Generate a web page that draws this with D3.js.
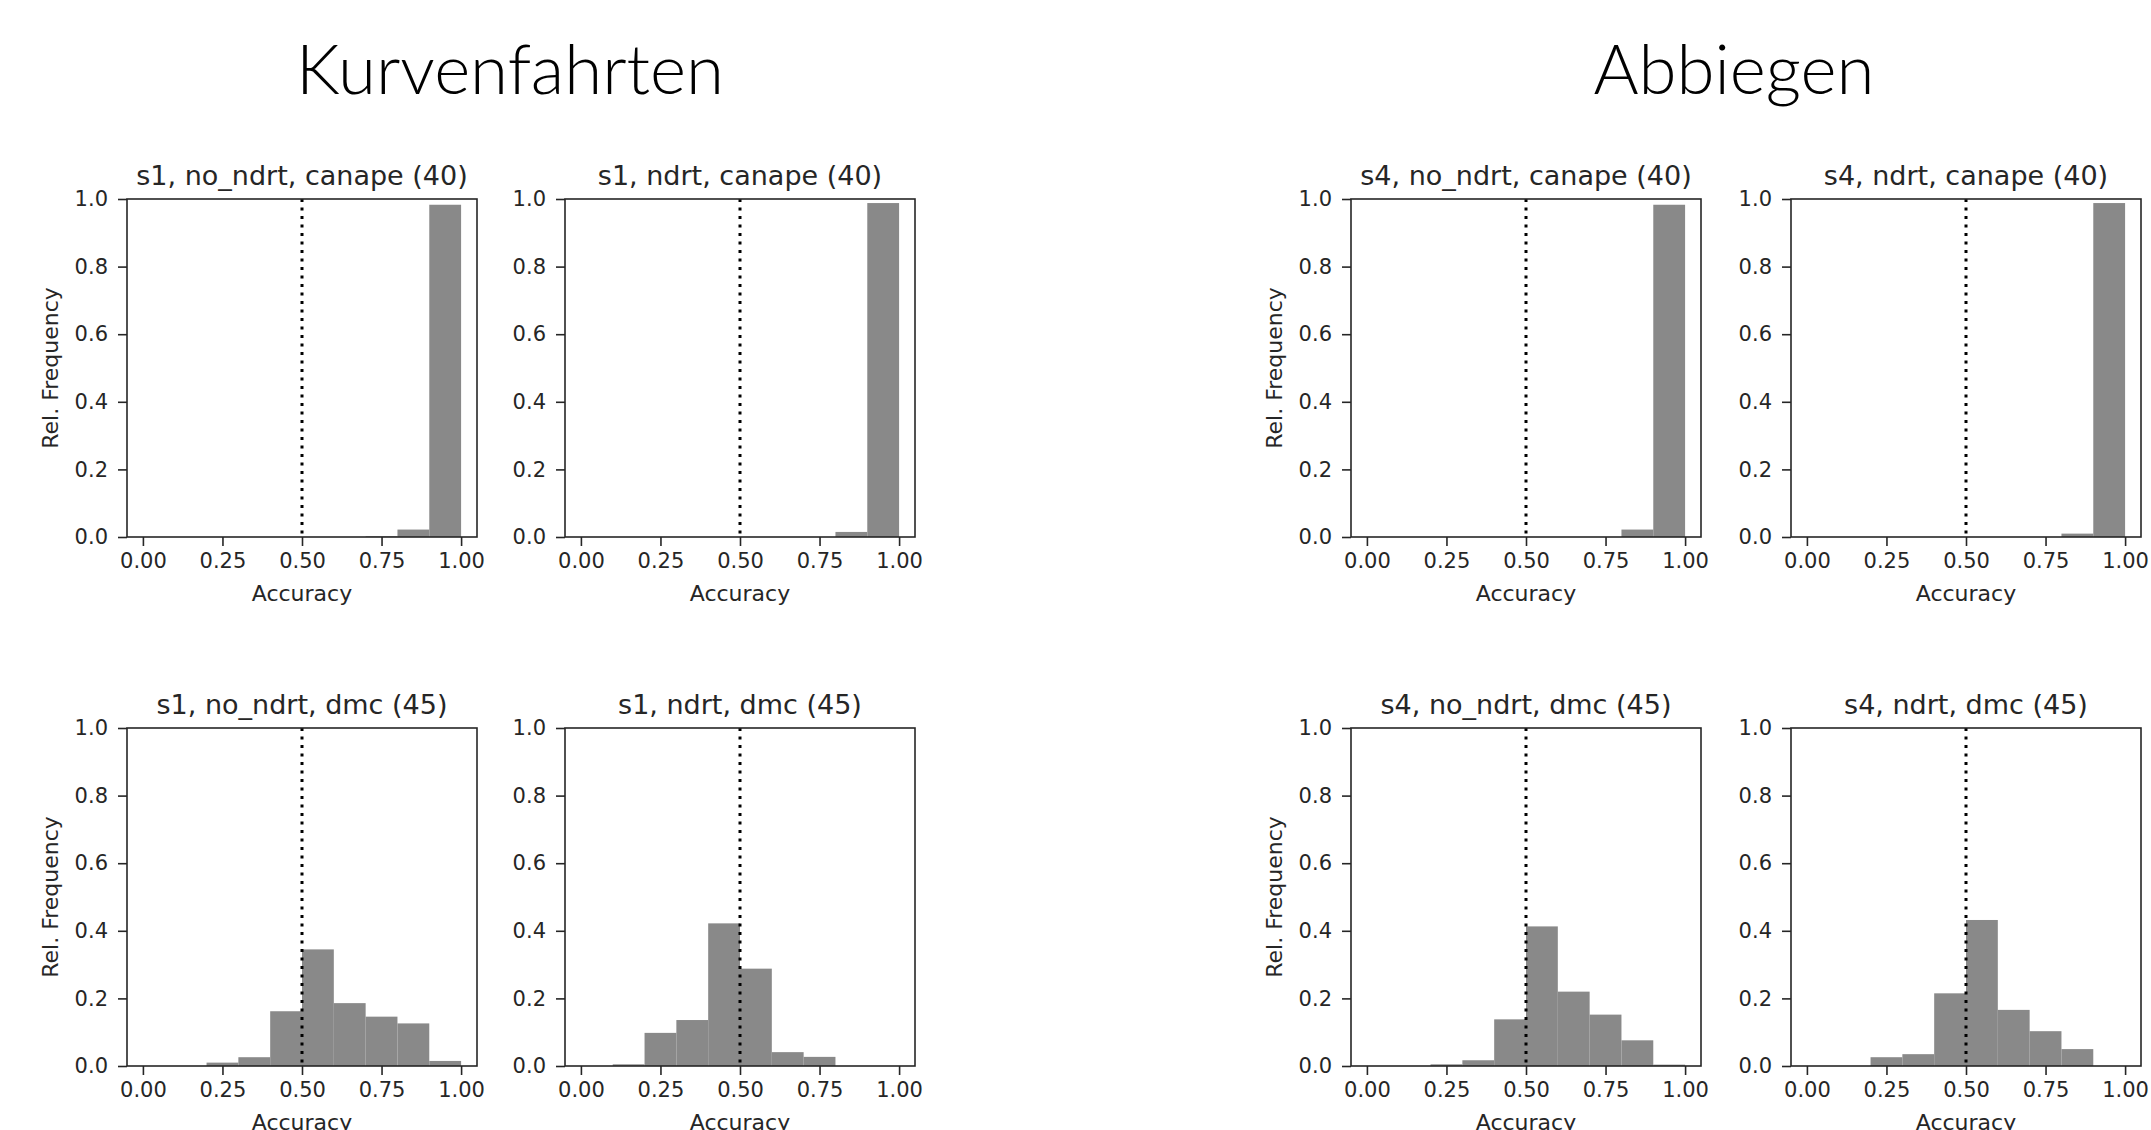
<!DOCTYPE html>
<html>
<head>
<meta charset="utf-8">
<script src="https://cdn.jsdelivr.net/npm/d3@7"></script>
<style>
  body { margin: 0; background: #fff; }
  svg { display: block; }
  .tick text { font-family: "DejaVu Sans", sans-serif; fill: #262626; }
  .tick line { stroke: #262626; stroke-width: 1.6; }
</style>
</head>
<body>
<div id="chart"></div>
<script>
// histogram bins (width 0.1)
const binStarts = [0, 0.1, 0.2, 0.3, 0.4, 0.5, 0.6, 0.7, 0.8, 0.9]
const binWidth = 0.1

// relative frequencies per bin
const s1NoNdrtCanape = [0, 0, 0, 0, 0, 0, 0, 0.002, 0.022, 0.983]
const s1NdrtCanape   = [0, 0, 0, 0, 0, 0, 0, 0, 0.015, 0.988]
const s1NoNdrtDmc    = [0, 0, 0.010, 0.026, 0.162, 0.345, 0.186, 0.146, 0.126, 0.015]
const s1NdrtDmc      = [0, 0.005, 0.098, 0.136, 0.422, 0.288, 0.041, 0.027, 0, 0]
const s4NoNdrtCanape = [0, 0, 0, 0, 0, 0, 0, 0, 0.022, 0.983]
const s4NdrtCanape   = [0, 0, 0, 0, 0, 0, 0, 0, 0.010, 0.988]
const s4NoNdrtDmc    = [0, 0, 0.005, 0.017, 0.138, 0.413, 0.220, 0.152, 0.076, 0.004]
const s4NdrtDmc      = [0, 0, 0.026, 0.035, 0.215, 0.432, 0.166, 0.103, 0.050, 0]

const panelTitles = [
  "s1, no_ndrt, canape (40)", "s1, ndrt, canape (40)",
  "s1, no_ndrt, dmc (45)", "s1, ndrt, dmc (45)",
  "s4, no_ndrt, canape (40)", "s4, ndrt, canape (40)",
  "s4, no_ndrt, dmc (45)", "s4, ndrt, dmc (45)"
]
const panelValues = [s1NoNdrtCanape, s1NdrtCanape, s1NoNdrtDmc, s1NdrtDmc,
                     s4NoNdrtCanape, s4NdrtCanape, s4NoNdrtDmc, s4NdrtDmc]

const sectionTitles = ["Kurvenfahrten", "Abbiegen"]
const xTicks = [0, 0.25, 0.5, 0.75, 1]
const yTicks = [0, 0.2, 0.4, 0.6, 0.8, 1]
const chanceLevel = 0.5
const xLabel = "Accuracy"
const yLabel = "Rel. Frequency"

// ----------------------------------------------------------

//layout
const width = 2151
const height = 1130
const axW = 350
const axH = 338
const colLefts = [127, 565, 1351, 1791]
const rowTops = [199, 728]
const sectionCenters = [510, 1734]
const ink = "#262626"

const svg = d3.select("#chart").append("svg").attr("width", width).attr("height", height)
svg.append("rect").attr("width", width).attr("height", height).attr("fill", "#fff")

//scales
const x = d3.scaleLinear().domain([-0.05, 1.05]).range([0, axW])
const y = d3.scaleLinear().domain([0, 1]).range([axH, 0])

//axes
const xAxis = d3.axisBottom(x).tickValues(xTicks).tickFormat(d3.format(".2f")).tickSize(9).tickPadding(7)
const yAxis = d3.axisLeft(y).tickValues(yTicks).tickFormat(d3.format(".1f")).tickSize(9).tickPadding(10)

//section titles
svg.selectAll(".section").data(sectionTitles).enter().append("text")
  .attr("class", "section")
  .attr("x", (d, i) => sectionCenters[i])
  .attr("y", 94)
  .attr("text-anchor", "middle")
  .attr("font-family", "Lato, 'Open Sans', sans-serif")
  .attr("font-weight", 300)
  .attr("font-size", 69)
  .attr("fill", "#000")
  .text(d => d)

panelTitles.forEach((title, i) => {
  const section = Math.floor(i / 4)
  const k = i % 4
  const col = section * 2 + (k % 2)
  const row = Math.floor(k / 2)
  const g = svg.append("g").attr("transform", `translate(${colLefts[col]}, ${rowTops[row]})`)

  //barras
  const data = binStarts.map((b, j) => ({ start: b, value: panelValues[i][j] })).filter(d => d.value > 0)
  g.selectAll("rect.bar").data(data).enter().append("rect")
    .attr("class", "bar")
    .attr("x", d => x(d.start))
    .attr("width", d => x(d.start + binWidth) - x(d.start))
    .attr("y", d => y(d.value))
    .attr("height", d => axH - y(d.value))
    .attr("fill", "#898989")

  //linea 0.5
  g.append("line")
    .attr("x1", x(chanceLevel)).attr("x2", x(chanceLevel))
    .attr("y1", 0).attr("y2", axH)
    .attr("stroke", "#000").attr("stroke-width", 3)
    .attr("stroke-dasharray", "3,5.5")

  //ejes
  const xg = g.append("g").attr("transform", `translate(0, ${axH})`).call(xAxis)
  xg.select(".domain").remove()
  xg.selectAll("text").attr("font-size", 21)
  const yg = g.append("g").call(yAxis)
  yg.select(".domain").remove()
  yg.selectAll("text").attr("font-size", 21)

  //marco
  g.append("rect").attr("width", axW).attr("height", axH)
    .attr("fill", "none").attr("stroke", ink).attr("stroke-width", 1.6)

  //titulo
  g.append("text").text(title)
    .attr("x", axW / 2).attr("y", -14)
    .attr("text-anchor", "middle")
    .attr("font-family", "DejaVu Sans, sans-serif")
    .attr("font-size", 27)
    .attr("fill", ink)

  g.append("text").text(xLabel)
    .attr("x", axW / 2).attr("y", axH + 64)
    .attr("text-anchor", "middle")
    .attr("font-family", "DejaVu Sans, sans-serif")
    .attr("font-size", 22)
    .attr("fill", ink)

  if (col % 2 === 0) {
    g.append("text").text(yLabel)
      .attr("transform", `translate(-69, ${axH / 2}) rotate(-90)`)
      .attr("text-anchor", "middle")
      .attr("font-family", "DejaVu Sans, sans-serif")
      .attr("font-size", 22)
      .attr("fill", ink)
  }
})
</script>
</body>
</html>
